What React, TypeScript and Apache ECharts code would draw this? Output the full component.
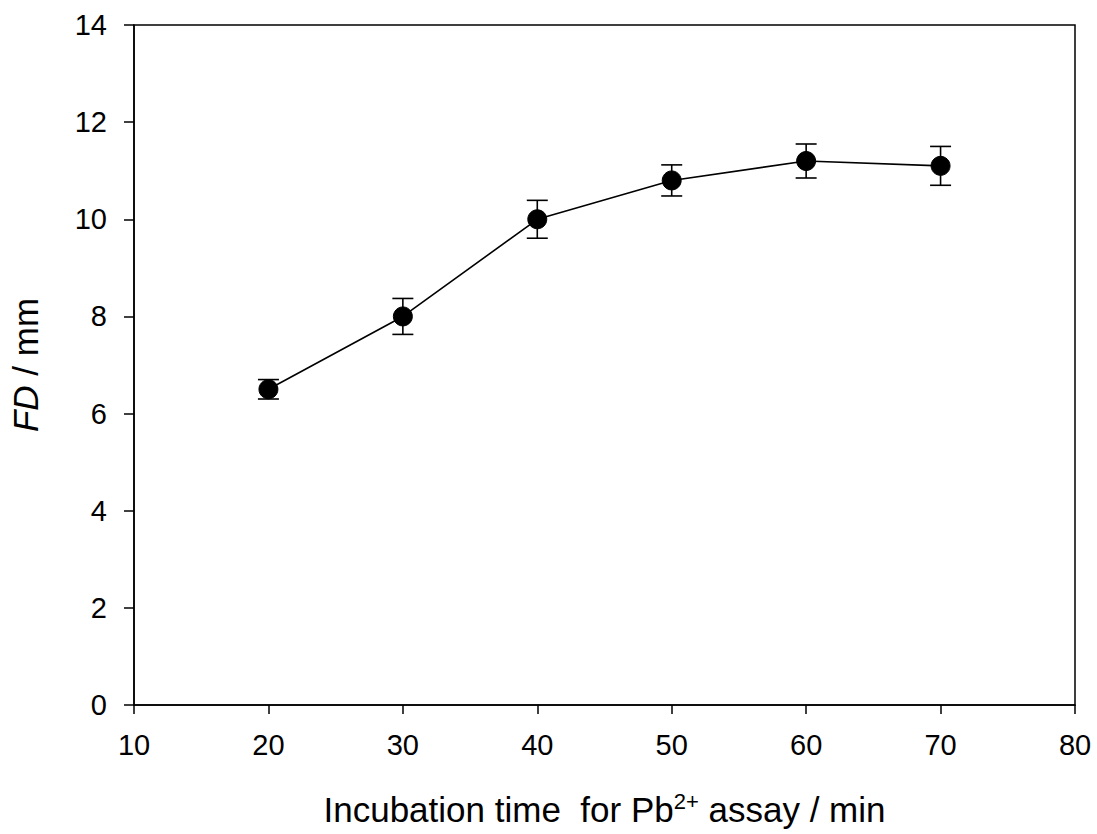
import React, { useEffect, useRef } from "react";
import * as echarts from "echarts";

const times = [20, 30, 40, 50, 60, 70];
const fdValues = [6.5, 8.0, 10.0, 10.8, 11.2, 11.1];
const fdErrors = [0.2, 0.37, 0.39, 0.32, 0.35, 0.4];
const xTicks = [10, 20, 30, 40, 50, 60, 70, 80];
const yTicks = [0, 2, 4, 6, 8, 10, 12, 14];

const FONT = "'Liberation Sans', Arial, sans-serif";

export default function App() {
  const ref = useRef<HTMLDivElement>(null);
  useEffect(() => {
    if (!ref.current) return;
    const chart = echarts.init(ref.current, undefined, { renderer: "svg" });
    const lineData = times.map((t, i) => [t, fdValues[i]]);
    const errData = times.map((t, i) => [t, fdValues[i] - fdErrors[i], fdValues[i] + fdErrors[i]]);
    chart.setOption({
      animation: false,
      backgroundColor: "#ffffff",
      textStyle: { fontFamily: FONT },
      grid: {
        left: 134,
        right: 22,
        top: 25,
        bottom: 129,
        show: true,
        borderColor: "#000",
        borderWidth: 1.5,
        backgroundColor: "transparent",
      },
      xAxis: {
        type: "value",
        min: xTicks[0],
        max: xTicks[xTicks.length - 1],
        interval: 10,
        name: "Incubation time  for Pb{sup|2+} assay / min",
        nameLocation: "middle",
        nameGap: 85,
        nameTextStyle: {
          fontSize: 35,
          color: "#000",
          fontFamily: FONT,
          rich: {
            sup: { fontSize: 22, verticalAlign: "top", color: "#000", fontFamily: FONT, padding: [0, 0, 16, 0] },
          },
        },
        axisLine: { show: true, lineStyle: { color: "#000", width: 1.5 } },
        axisTick: { show: true, inside: false, length: 9, lineStyle: { color: "#000", width: 1.5 } },
        axisLabel: { fontSize: 29, color: "#000", margin: 25, fontFamily: FONT },
        splitLine: { show: false },
      },
      yAxis: {
        type: "value",
        min: yTicks[0],
        max: yTicks[yTicks.length - 1],
        interval: 2,
        name: "{i|FD} / mm",
        nameLocation: "middle",
        nameGap: 91,
        nameRotate: 90,
        nameTextStyle: {
          fontSize: 35,
          color: "#000",
          fontFamily: FONT,
          rich: {
            i: { fontSize: 35, fontStyle: "italic", color: "#000", fontFamily: FONT },
          },
        },
        axisLine: { show: true, lineStyle: { color: "#000", width: 1.5 } },
        axisTick: { show: true, inside: false, length: 10, lineStyle: { color: "#000", width: 1.5 } },
        axisLabel: { fontSize: 29, color: "#000", margin: 27, fontFamily: FONT },
        splitLine: { show: false },
      },
      series: [
        {
          type: "custom",
          data: errData,
          z: 1,
          renderItem: (params: any, api: any) => {
            const x = api.value(0);
            const lo = api.coord([x, api.value(1)]);
            const hi = api.coord([x, api.value(2)]);
            const hw = 10.5;
            const style = { stroke: "#000", lineWidth: 1.6 };
            return {
              type: "group",
              children: [
                { type: "line", shape: { x1: lo[0], y1: lo[1], x2: hi[0], y2: hi[1] }, style },
                { type: "line", shape: { x1: lo[0] - hw, y1: lo[1], x2: lo[0] + hw, y2: lo[1] }, style },
                { type: "line", shape: { x1: hi[0] - hw, y1: hi[1], x2: hi[0] + hw, y2: hi[1] }, style },
              ],
            };
          },
        },
        {
          type: "line",
          data: lineData,
          z: 2,
          symbol: "circle",
          symbolSize: 19,
          lineStyle: { color: "#000", width: 1.6 },
          itemStyle: { color: "#000", borderColor: "#000" },
        },
      ],
    });
    return () => chart.dispose();
  }, []);
  return (
    <div
      ref={ref}
      style={{ position: "fixed", left: 0, top: 0, width: 1097, height: 834, background: "#fff" }}
    />
  );
}
